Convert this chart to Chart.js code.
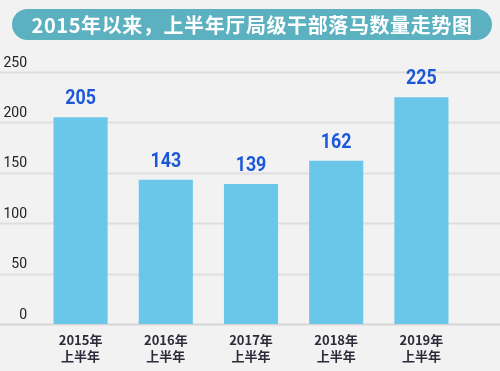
<!DOCTYPE html>
<html>
<head>
<meta charset="utf-8">
<script src="https://cdn.jsdelivr.net/npm/chart.js@4"></script>
<style>
  html, body { margin: 0; padding: 0; background: #f2f2f2; }
  #wrap { position: relative; width: 500px; height: 371px; }
  #title {
    position: absolute; left: 12px; top: 9px; width: 480px; height: 31px;
    border-radius: 16px; background: #5cb1c0; color: #fff;
    font: bold 20px "Noto Sans CJK SC", sans-serif; letter-spacing: 0.6px;
    text-align: center; line-height: 31px; white-space: nowrap; z-index: 2;
  }
  canvas { position: absolute; left: 0; top: 0; }
</style>
</head>
<body>
<div id="wrap">
  <div id="title">2015年以来，上半年厅局级干部落马数量走势图</div>
  <canvas id="chart" width="500" height="371"></canvas>
</div>
<script>
// data
const years = ['2015年', '2016年', '2017年', '2018年', '2019年'];
const halfLabel = '上半年';
const counts = [205, 143, 139, 162, 225];
const yTicks = [0, 50, 100, 150, 200, 250];

// grid lines across the whole width, like the original
const fullGrid = {
  id: 'fullGrid',
  beforeDatasetsDraw(chart) {
    const ctx = chart.ctx;
    const y = chart.scales.y;
    ctx.save();
    yTicks.forEach(v => {
      const py = Math.round(y.getPixelForValue(v)) + 0.5;
      ctx.strokeStyle = v === 0 ? '#d6d6d6' : '#dedede';
      ctx.lineWidth = 2;
      ctx.beginPath();
      ctx.moveTo(0, py);
      ctx.lineTo(chart.width, py);
      ctx.stroke();
    });
    ctx.restore();
  }
};

// numbers on top of the bars, squeezed to look condensed
const valueLabels = {
  id: 'valueLabels',
  afterDatasetsDraw(chart) {
    const ctx = chart.ctx;
    const meta = chart.getDatasetMeta(0);
    ctx.save();
    ctx.fillStyle = '#1b57d9';
    ctx.font = 'bold 21px Roboto, sans-serif';
    ctx.textAlign = 'center';
    ctx.textBaseline = 'alphabetic';
    meta.data.forEach((bar, i) => {
      ctx.save();
      ctx.translate(bar.x, bar.y - 13);
      ctx.scale(0.85, 1);
      ctx.fillText(String(counts[i]), 0, 0);
      ctx.restore();
    });
    ctx.restore();
  }
};

new Chart(document.getElementById('chart'), {
  type: 'bar',
  data: {
    labels: years.map(y => [y, halfLabel]),
    datasets: [{
      data: counts,
      backgroundColor: '#6ac7e9',
      borderWidth: 0,
      barPercentage: 0.635,
      categoryPercentage: 1
    }]
  },
  options: {
    responsive: false,
    animation: false,
    layout: { padding: { top: 72, right: 36, left: 0, bottom: 0 } },
    plugins: { legend: { display: false }, tooltip: { enabled: false } },
    scales: {
      x: {
        grid: { display: false, drawTicks: false },
        border: { display: false },
        ticks: {
          color: '#2b2b3a',
          font: { family: '"Noto Sans CJK SC", sans-serif', size: 13, weight: 'bold', lineHeight: 1.25 },
          padding: 8,
          maxRotation: 0
        },
        afterFit: s => { s.height = 47; }
      },
      y: {
        min: 0, max: 250,
        grid: { display: false, drawTicks: false },
        border: { display: false },
        ticks: {
          stepSize: 50,
          color: '#222',
          font: { family: 'Roboto, sans-serif', size: 14 },
          padding: 11,
          labelOffset: -9
        },
        afterFit: s => { s.width = 38; }
      }
    }
  },
  plugins: [fullGrid, valueLabels]
});
</script>
</body>
</html>
